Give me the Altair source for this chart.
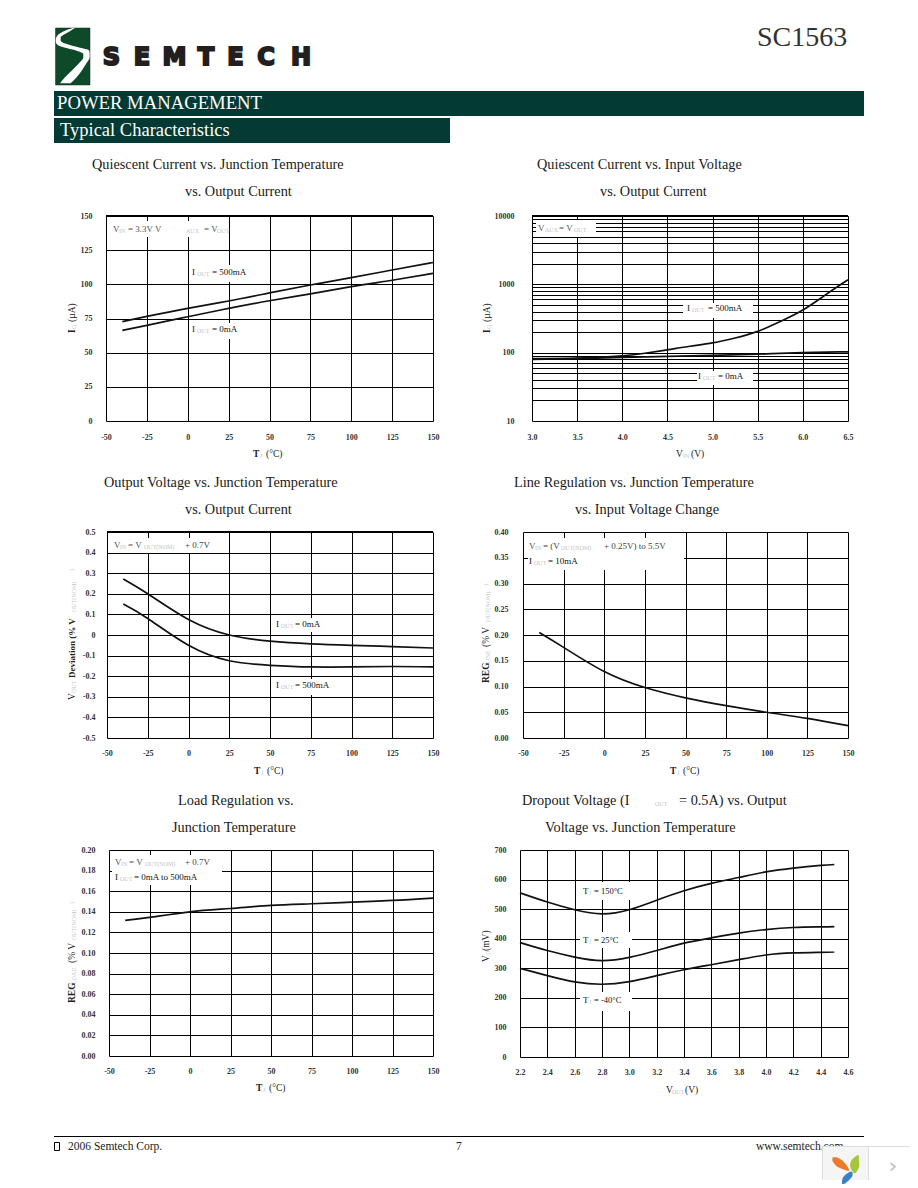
import altair as alt
import pandas as pd

# ---------- chart data ----------
T_AXIS = [-50, -25, 0, 25, 50, 75, 100, 125, 150]

Q_TEMP_X = [-40, -25, 0, 25, 50, 75, 100, 125, 150]
Q_TEMP_500 = [72.7, 76.5, 82.4, 87.8, 93.7, 99.5, 104.9, 110.5, 116]
Q_TEMP_0 = [66.3, 70, 76.3, 82.4, 88, 93, 98.3, 103, 108]
Q_TEMP_YT = [0, 25, 50, 75, 100, 125, 150]

Q_VIN_X500 = [3.0, 3.5, 4.0, 4.25, 4.5, 4.75, 5.0, 5.25, 5.5, 5.75, 6.0, 6.25, 6.5]
Q_VIN_500 = [82, 83, 90, 98, 110, 124, 139, 164, 205, 285, 420, 700, 1164]
Q_VIN_X0 = [3.0, 3.5, 4.0, 4.5, 5.0, 5.5, 6.0, 6.5]
Q_VIN_0 = [80, 82, 85, 88, 91, 95, 100, 103]
VIN_AXIS = [3.0, 3.5, 4.0, 4.5, 5.0, 5.5, 6.0, 6.5]
LOG_GRID = [10, 20, 30, 40, 50, 60, 70, 80, 90,
            100, 200, 300, 400, 500, 600, 700, 800, 900,
            1000, 2000, 3000, 4000, 5000, 6000, 7000, 8000, 9000, 10000]

DEV_X = [-40, -25, 0, 25, 50, 75, 100, 125, 150]
DEV_0 = [0.272, 0.2, 0.075, 0, -0.03, -0.043, -0.05, -0.056, -0.063]
DEV_500 = [0.15, 0.08, -0.05, -0.125, -0.147, -0.155, -0.155, -0.153, -0.155]
DEV_YT = [-0.5, -0.4, -0.3, -0.2, -0.1, 0, 0.1, 0.2, 0.3, 0.4, 0.5]

LINE_REG = [0.205, 0.176, 0.129, 0.098, 0.078, 0.063, 0.05, 0.038, 0.024]
LINE_YT = [0, 0.05, 0.10, 0.15, 0.20, 0.25, 0.30, 0.35, 0.40]

LOAD_X = [-40, -25, 0, 25, 50, 75, 100, 125, 150]
LOAD_REG = [0.1316, 0.1345, 0.14, 0.1432, 0.1462, 0.1478, 0.1494, 0.151, 0.1533]
LOAD_YT = [0, 0.02, 0.04, 0.06, 0.08, 0.10, 0.12, 0.14, 0.16, 0.18, 0.20]

DROP_X = [2.2, 2.4, 2.6, 2.8, 3.0, 3.2, 3.4, 3.6, 3.8, 4.0, 4.2, 4.4, 4.5]
DROP_150 = [555, 524, 498, 484, 498, 530, 562, 587, 607, 626, 639, 648, 651]
DROP_25 = [387, 360, 338, 326, 337, 360, 385, 403, 419, 431, 438, 440, 441]
DROP_M40 = [300, 275, 254, 246, 255, 275, 295, 312, 329, 345, 352, 354, 355]
DROP_XT = [2.2, 2.4, 2.6, 2.8, 3.0, 3.2, 3.4, 3.6, 3.8, 4.0, 4.2, 4.4, 4.6]
DROP_YT = [0, 100, 200, 300, 400, 500, 600, 700]

# ---------- style ----------
SERIF = "Liberation Serif"
INK = "#111111"
FAINT = "#c4c4c4"
BAR = "#033a33"
ONE = pd.DataFrame({"_": [0]})


def long(xs, **series):
    rows = []
    for name, ys in series.items():
        rows += [{"x": a, "y": b, "s": name} for a, b in zip(xs, ys)]
    return rows


def seg(ox, oy, px, py, text, size=9, color=INK, weight="normal", angle=0,
        align="left", font=SERIF, **extra):
    kw = dict(font=font, fontSize=size, color=color, fontWeight=weight, angle=angle,
              align=align, baseline="middle")
    kw.update(extra)
    return alt.Chart(ONE).mark_text(**kw).encode(
        x=alt.value(px - ox), y=alt.value(py - oy), text=alt.value(text))


def box(ox, oy, x0, y0, x1, y1, color="white", **kw):
    return alt.Chart(ONE).mark_rect(color=color, **kw).encode(
        x=alt.value(x0 - ox), x2=alt.value(x1 - ox),
        y=alt.value(y0 - oy), y2=alt.value(y1 - oy))


def spacer(w, h, top=0, bottom=None):
    # an invisible block fixing how much of the page this row takes
    bottom = h if bottom is None else bottom
    return alt.Chart(ONE).mark_rect(opacity=0).encode(
        x=alt.value(0), x2=alt.value(w), y=alt.value(top), y2=alt.value(bottom)
    ).properties(width=w, height=h)


def panel(ox, oy, x1, y1, rows, xdom, ydom, xt, yt, xfmt, yfmt, xpad, ypad,
          boxes, texts, log=False, ylabels=None, thick=False):
    w = x1 - ox
    h = y1 - oy
    xs = alt.Scale(domain=xdom, nice=False, zero=False)
    ys = alt.Scale(domain=ydom, nice=False, zero=False, **({"type": "log"} if log else {}))
    common = dict(domain=False, ticks=False, tickSize=0, grid=True, gridColor="#000000",
                  gridOpacity=1, gridWidth=1, title=None, labelFont=SERIF, labelFontSize=8,
                  labelFontWeight="bold", labelColor="#333333", labelOverlap=False,
                  labelFlush=False, labelBound=False)
    xaxis = alt.Axis(values=xt, format=xfmt, labelAngle=0, labelPadding=xpad,
                     labelBaseline="middle", labelExpr="replace(datum.label, '−', '-')", **common)
    if ylabels:
        lab = "indexof(%s, datum.value) >= 0 ? format(datum.value, 'd') : ''" % ylabels
    else:
        lab = "replace(datum.label, '−', '-')"
    yaxis = alt.Axis(values=yt, format=yfmt, labelPadding=ypad, labelExpr=lab, **common)
    base = alt.Chart(pd.DataFrame(rows))
    lines = base.mark_line(interpolate="natural", color=INK, strokeWidth=1.7).encode(
        x=alt.X("x:Q", scale=xs, axis=xaxis),
        y=alt.Y("y:Q", scale=ys, axis=yaxis),
        detail="s:N")
    layers = []
    for b in boxes:
        layers.append(box(ox, oy, *b))
    layers.append(lines)
    if thick:
        layers.append(alt.Chart(ONE).mark_rule(color="#000000", strokeWidth=2).encode(
            x=alt.value(0), x2=alt.value(w), y=alt.value(0)))
    for t in texts:
        layers.append(seg(ox, oy, *t[:3], **(t[3] if len(t) > 3 else {})))
    return alt.layer(*layers).properties(width=w, height=h)


SUB = dict(size=6, color=FAINT)
AX = dict(size=9.5, color="#222222")
BOLD = dict(size=9.5, weight="bold", color="#222222")
TT = dict(size=14.3, color="#1a1a1a")
GREY = dict(color="#555555")


def rot(**k):
    d = dict(angle=270)
    d.update(k)
    return d


# ---------- panels ----------
p1 = panel(106, 216, 433, 421,
           long(Q_TEMP_X, a=Q_TEMP_500, b=Q_TEMP_0),
           [-50, 150], [0, 150], T_AXIS, Q_TEMP_YT, "d", "d", 16, 14,
           [(108, 221, 220, 237), (189, 265, 246, 282), (190, 323, 235, 339)],
           [(92, 165, "Quiescent Current vs. Junction Temperature", TT),
            (185, 192, "vs. Output Current", TT),
            (113, 229, "V", GREY), (119, 231, "IN", SUB), (128, 229, "= 3.3V", GREY),
            (155, 229, "V", GREY), (186, 231, "AUX", SUB), (204, 229, "= V", GREY), (217, 231, "OUT", SUB),
            (192, 272, "I"), (197, 274, "OUT", SUB), (212, 272, "= 500mA"),
            (192, 329, "I"), (197, 331, "OUT", SUB), (212, 329, "= 0mA"),
            (253, 454, "T", BOLD), (260, 456, "J", SUB), (266, 454, "(°C)", AX),
            (72, 333, "I", rot(**BOLD)), (74, 329, "Q", rot(**SUB)), (72, 322, "(µA)", rot(**AX))],
           thick=True)

p2 = panel(532, 216, 848, 421,
           long(Q_VIN_X500, a=Q_VIN_500) + long(Q_VIN_X0, b=Q_VIN_0),
           [3.0, 6.5], [10, 10000], VIN_AXIS, LOG_GRID, ".1f", "d", 16, 18,
           [(536, 220, 596, 237), (683, 303, 753, 318), (697, 371, 753, 385)],
           [(537, 165, "Quiescent Current vs. Input Voltage", TT),
            (600, 192, "vs. Output Current", TT),
            (538, 228, "V", GREY), (545, 230, "AUX", SUB), (559, 228, "= V", GREY), (574, 230, "OUT", SUB),
            (687, 308, "I"), (692, 310, "OUT", SUB), (708, 308, "= 500mA"),
            (698, 376, "I"), (703, 378, "OUT", SUB), (718, 376, "= 0mA"),
            (676, 454, "V", AX), (683, 456, "IN", SUB), (691, 454, "(V)", AX),
            (487, 333, "I", rot(**BOLD)), (489, 329, "Q", rot(**SUB)), (487, 322, "(µA)", rot(**AX))],
           log=True, ylabels="[10,100,1000,10000]", thick=True)

p3 = panel(107, 532, 433, 738,
           long(DEV_X, a=DEV_0, b=DEV_500),
           [-50, 150], [-0.5, 0.5], T_AXIS, DEV_YT, "d", ".1~f", 15, 12,
           [(112, 538, 220, 553), (272, 618, 320, 632), (272, 679, 332, 695)],
           [(104, 483, "Output Voltage vs. Junction Temperature", TT),
            (185, 510, "vs. Output Current", TT),
            (114, 545, "V", GREY), (120, 547, "IN", SUB), (128, 545, "= V", GREY), (144, 547, "OUT(NOM)", SUB), (185, 545, "+ 0.7V", dict(color="#444444")),
            (276, 624, "I"), (281, 626, "OUT", SUB), (295, 624, "= 0mA"),
            (276, 685, "I"), (281, 687, "OUT", SUB), (295, 685, "= 500mA"),
            (254, 771, "T", BOLD), (261, 773, "J", SUB), (267, 771, "(°C)", AX),
            (72, 700, "V", rot(**AX)), (74, 693, "OUT", rot(**SUB)), (72, 678, "Deviation (% V", rot(size=9, weight="bold", color="#222222")),
            (74, 612, "OUT(NOM)", rot(**SUB)), (72, 571, ")", rot(**SUB))],
           thick=True)

p4 = panel(523, 532, 848, 738,
           long(DEV_X, a=LINE_REG),
           [-50, 150], [0, 0.40], T_AXIS, LINE_YT, "d", ".2f", 15, 15,
           [(528, 538, 684, 570)],
           [(514, 483, "Line Regulation vs. Junction Temperature", TT),
            (575, 510, "vs. Input Voltage Change", TT),
            (529, 546, "V", GREY), (535, 548, "IN", SUB), (543, 546, "= (V", dict(color="#444444")), (561, 548, "OUT(NOM)", SUB), (604, 546, "+ 0.25V) to 5.5V", dict(color="#444444")),
            (529, 561, "I"), (534, 563, "OUT", SUB), (548, 561, "= 10mA"),
            (670, 771, "T", BOLD), (677, 773, "J", SUB), (683, 771, "(°C)", AX),
            (486, 683, "REG", rot(**BOLD)), (488, 664, "LINE", rot(**SUB)), (486, 647, "(% V", rot(**AX)),
            (488, 622, "OUT(NOM)", rot(**SUB)), (486, 586, ")", rot(**SUB))])

p5 = panel(109, 850, 433, 1056,
           long(LOAD_X, a=LOAD_REG),
           [-50, 150], [0, 0.20], T_AXIS, LOAD_YT, "d", ".2f", 15, 14,
           [(112, 855, 222, 885)],
           [(178, 801, "Load Regulation vs.", TT),
            (172, 828, "Junction Temperature", TT),
            (115, 862, "V", GREY), (121, 864, "IN", SUB), (129, 862, "= V", GREY), (145, 864, "OUT(NOM)", SUB), (185, 862, "+ 0.7V", dict(color="#444444")),
            (115, 877, "I"), (120, 879, "OUT", SUB), (134, 877, "= 0mA to 500mA"),
            (256, 1088, "T", BOLD), (263, 1090, "J", SUB), (269, 1088, "(°C)", AX),
            (72, 1003, "REG", rot(**BOLD)), (74, 984, "LOAD", rot(**SUB)), (72, 963, "(% V", rot(**AX)),
            (74, 940, "OUT(NOM)", rot(**SUB)), (72, 904, ")", rot(**SUB))])

p6 = panel(520, 850, 848, 1057,
           long(DROP_X, a=DROP_150, b=DROP_25, c=DROP_M40),
           [2.2, 4.6], [0, 700], DROP_XT, DROP_YT, ".1f", "d", 15, 14,
           [(580, 882, 632, 900), (580, 932, 632, 948), (580, 992, 632, 1011)],
           [(522, 801, "Dropout Voltage (I", TT), (655, 804, "OUT", SUB), (679, 801, "= 0.5A) vs. Output", TT),
            (545, 828, "Voltage vs. Junction Temperature", TT),
            (583, 891, "T"), (589, 893, "J", SUB), (594, 891, "= 150°C", dict(size=8.5)),
            (583, 940, "T"), (589, 942, "J", SUB), (594, 940, "= 25°C", dict(size=8.5)),
            (583, 1000, "T"), (589, 1002, "J", SUB), (594, 1000, "= -40°C", dict(size=8.5)),
            (666, 1090, "V", AX), (672, 1092, "OUT", SUB), (685, 1090, "(V)", AX),
            (486, 962, "V", rot(**AX)), (488, 955, "D", rot(**SUB)), (486, 951, "(mV)", rot(**AX))])


# ---------- logo / page furniture ----------
def shape(rows, ox, oy, w, h, color, **kw):
    xs = alt.Scale(domain=[ox, ox + w], range=[0, w], nice=False, zero=False)
    ys = alt.Scale(domain=[oy, oy + h], range=[0, h], nice=False, zero=False)
    return alt.Chart(pd.DataFrame(rows, columns=["y", "a", "b"])).mark_area(
        orient="horizontal", color=color, interpolate="monotone", **kw).encode(
        y=alt.Y("y:Q", scale=ys, axis=None),
        x=alt.X("a:Q", scale=xs, axis=None),
        x2="b:Q")


def zoomed(rows, x0, y0):
    return [(y0 + r[0] / 3, x0 + r[1] / 3, x0 + r[2] / 3) for r in rows]


PAGE_W = 902
HDR_H = 142
swoosh = zoomed([(12, 68, 75), (20, 45, 62), (30, 27, 45), (40, 19, 32), (50, 17, 32), (60, 20, 50),
                 (70, 40, 85), (80, 80, 118), (90, 100, 119), (100, 100, 119), (120, 85, 108),
                 (140, 65, 95), (160, 45, 80), (178, 30, 62)], 50, 24)

hdr_layers = [
    box(8, 8, 55.5, 28, 90, 85, color="#0e4a2a", stroke="#222222", strokeWidth=0.5),
    shape(swoosh, 8, 8, PAGE_W, HDR_H, "white"),
]
LOGO = [("S", 111.5), ("E", 142), ("M", 174.5), ("T", 206), ("E", 235.5), ("C", 266), ("H", 301)]
for ch, cx in LOGO:
    hdr_layers.append(seg(8, 8, cx, 58, ch, size=24, color="#231f20", weight="bold",
                          align="center", font="DejaVu Sans", stroke="#231f20", strokeWidth=2))
hdr_layers += [
    seg(8, 8, 757, 38, "SC1563", size=28, color="#333333"),
    box(8, 8, 54, 91, 864, 116, color=BAR),
    box(8, 8, 54, 118, 450, 143, color=BAR),
    seg(8, 8, 57, 103, "POWER MANAGEMENT", size=18.7, color="white"),
    seg(8, 8, 60, 130, "Typical Characteristics", size=18.5, color="white"),
]
header = alt.layer(*hdr_layers).properties(width=PAGE_W, height=HDR_H)

FTR_Y = 1105
FTR_H = 75
orange = zoomed([(52, 68, 80), (60, 67, 95), (70, 72, 105), (80, 82, 113), (92, 112, 118)], 810, 1140)
green = zoomed([(45, 143, 146), (60, 125, 147), (75, 120, 148), (90, 125, 143), (100, 132, 136)], 810, 1140)
blue = zoomed([(95, 120, 127), (105, 105, 128), (115, 98, 122), (125, 96, 112), (132, 96, 102)], 810, 1140)

ftr_layers = [
    box(8, FTR_Y, 54, 1136, 864, 1137, color="#000000"),
    box(8, FTR_Y, 54.5, 1142.5, 59.5, 1150.5, color="white", stroke="#000000", strokeWidth=1),
    seg(8, FTR_Y, 68, 1146.5, "2006 Semtech Corp.", size=11.5, color="#222222"),
    seg(8, FTR_Y, 456, 1146.5, "7", size=11.5, color="#222222"),
    seg(8, FTR_Y, 756, 1146.5, "www.semtech.com", size=11.5, color="#222222"),
    box(8, FTR_Y, 822, 1146, 868, 1180, color="#f5f5f5"),
    box(8, FTR_Y, 868, 1146, 910, 1180, color="#ffffff"),
    box(8, FTR_Y, 822, 1146, 910, 1147, color="#dddddd"),
    box(8, FTR_Y, 822, 1146, 823, 1180, color="#dddddd"),
    box(8, FTR_Y, 868, 1146, 869, 1180, color="#dddddd"),
    shape(orange, 8, FTR_Y, PAGE_W, FTR_H, "#ee7a2d"),
    shape(green, 8, FTR_Y, PAGE_W, FTR_H, "#a5c63b"),
    shape(blue, 8, FTR_Y, PAGE_W, FTR_H, "#3b82c4"),
    seg(8, FTR_Y, 893, 1165.5, "›", size=22, color="#bdbdbd", align="center", font="DejaVu Sans"),
]
footer = alt.layer(*ftr_layers).properties(width=PAGE_W, height=FTR_H)


def row(sp, pl, gap, pr, h, top, bottom):
    return alt.hconcat(spacer(sp, h, top, bottom), pl, spacer(gap, h), pr,
                       spacing=0, bounds="flush")


rows = [
    header,
    row(98, p1, 99, p2, 205, 150 - 216, 468 - 216),
    row(99, p3, 90, p4, 206, 468 - 532, 786 - 532),
    row(101, p5, 87, p6, 206, 786 - 850, 1105 - 850),
    footer,
]

chart = alt.vconcat(*rows, spacing=0).properties(padding=0).configure_view(stroke=None)

chart.save("out.html", embed_options={"renderer": "svg", "actions": False})
